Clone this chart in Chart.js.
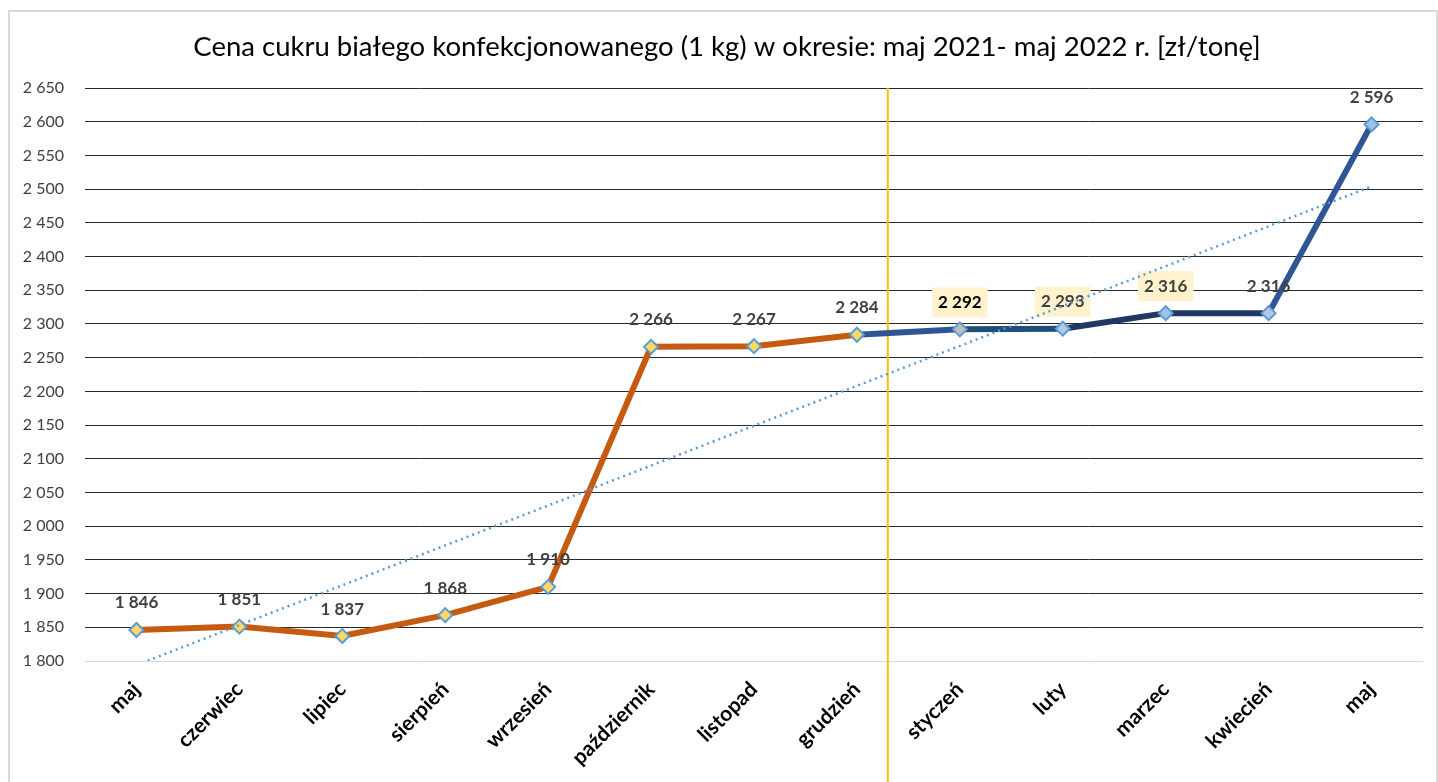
<!DOCTYPE html>
<html>
<head>
<meta charset="utf-8">
<script src="https://cdn.jsdelivr.net/npm/chart.js@4/dist/chart.umd.min.js"></script>
<style>
  body { margin: 0; background: #fff; }
  #wrap { width: 1438px; height: 782px; }
</style>
</head>
<body>
<div id="wrap"><canvas id="chart" width="1438" height="782"></canvas></div>
<script>
// dane: cena cukru [zł/tonę], maj 2021 - maj 2022
const months = ['maj', 'czerwiec', 'lipiec', 'sierpień', 'wrzesień', 'październik', 'listopad', 'grudzień', 'styczeń', 'luty', 'marzec', 'kwiecień', 'maj'];
const prices = [1846, 1851, 1837, 1868, 1910, 2266, 2267, 2284, 2292, 2293, 2316, 2316, 2596];
const trendStartEnd = [1794, 2504];
const yTicksMin = 1800;
const yTicksMax = 2650;
const yStep = 50;

// style
const segColors = ['#c55a11', '#c55a11', '#c55a11', '#c55a11', '#c55a11', '#c55a11', '#c55a11', '#2f5597', '#1f4e79', '#203864', '#203864', '#2f5597'];
const pointFills = ['#ffd966', '#ffd966', '#ffd966', '#ffd966', '#ffd966', '#ffd966', '#ffd966', '#ffd966', '#bfbfbf', '#b4c7e7', '#9dc3e6', '#b4c7e7', '#9dc3e6'];
const boxedLabels = [8, 9, 10];
const FONT = 'Lato, "Open Sans", sans-serif';

const fmt = (v) => String(v).replace(/\B(?=(\d{3})+(?!\d))/g, ' ');

const trendData = months.map((m, i) => i === 0 ? trendStartEnd[0] : (i === months.length - 1 ? trendStartEnd[1] : null));

const frameAndTitle = {
  id: 'frameAndTitle',
  beforeDraw(chart) {
    const ctx = chart.ctx;
    ctx.save();
    ctx.fillStyle = '#fff';
    ctx.fillRect(0, 0, chart.width, chart.height);
    ctx.strokeStyle = '#d9d9d9';
    ctx.lineWidth = 2;
    ctx.strokeRect(9, 11, 1428, 800);
    ctx.fillStyle = '#000';
    ctx.font = '27.5px ' + FONT;
    ctx.textAlign = 'center';
    ctx.textBaseline = 'middle';
    ctx.fillText('Cena cukru białego konfekcjonowanego (1 kg) w okresie: maj 2021- maj 2022 r. [zł/tonę]', 727, 47);
    ctx.restore();
  },
  beforeDatasetsDraw(chart) {
    // pionowa linia: granica roku
    const ctx = chart.ctx;
    const x = chart.scales.x.getPixelForValue(7.3);
    ctx.save();
    ctx.strokeStyle = '#ffc000';
    ctx.lineWidth = 2;
    ctx.beginPath();
    ctx.moveTo(x, chart.chartArea.top);
    ctx.lineTo(x, chart.height);
    ctx.stroke();
    ctx.restore();
  },
  afterDatasetDraw(chart, args) {
    if (args.index !== 0) return;
    const ctx = chart.ctx;
    const meta = chart.getDatasetMeta(0);
    ctx.save();
    ctx.font = 'bold 17px ' + FONT;
    ctx.textAlign = 'center';
    ctx.textBaseline = 'middle';
    meta.data.forEach((pt, i) => {
      const txt = fmt(prices[i]);
      const y = pt.y - 27;
      if (boxedLabels.includes(i)) {
        const w = ctx.measureText(txt).width + 12;
        ctx.fillStyle = '#fff2cc';
        ctx.fillRect(pt.x - w / 2, y - 15, w, 30);
      }
      ctx.fillStyle = i === 8 ? '#000' : '#404040';
      ctx.fillText(txt, pt.x, y);
    });
    ctx.restore();
  }
};

new Chart(document.getElementById('chart'), {
  type: 'line',
  data: {
    labels: months,
    datasets: [{
      label: 'Cena',
      data: prices,
      order: 2,
      borderWidth: 6,
      borderColor: '#c55a11',
      segment: {
        borderColor: (c) => segColors[c.p0DataIndex]
      },
      pointStyle: 'rectRot',
      pointRadius: 7,
      pointBorderWidth: 2,
      pointBorderColor: '#5b9bd5',
      pointBackgroundColor: pointFills,
      tension: 0
    }, {
      label: 'Trend',
      data: trendData,
      order: 1,
      spanGaps: true,
      borderColor: '#5b9bd5',
      borderWidth: 2.5,
      borderDash: [2, 4],
      pointRadius: 0
    }]
  },
  options: {
    responsive: false,
    animation: false,
    layout: { padding: { top: 88, right: 15, left: 0, bottom: 0 } },
    plugins: {
      legend: { display: false },
      tooltip: { enabled: false },
      title: { display: false }
    },
    scales: {
      x: {
        offset: true,
        grid: { display: false },
        border: { display: false },
        ticks: {
          autoSkip: false,
          minRotation: 45,
          maxRotation: 45,
          padding: 8,
          color: '#000',
          font: { family: FONT, size: 21, weight: 'bold' }
        },
        afterFit(scale) {
          scale.height = 121;
          scale.paddingLeft = 0;
          scale.paddingRight = 0;
        }
      },
      y: {
        min: yTicksMin,
        max: yTicksMax,
        border: { display: false },
        grid: {
          drawTicks: false,
          color: (c) => c.tick.value === yTicksMin ? '#d9d9d9' : '#2a2a2a',
          lineWidth: 1
        },
        ticks: {
          stepSize: yStep,
          padding: 21,
          color: '#404040',
          font: { family: FONT, size: 16 },
          callback: (v) => fmt(v)
        },
        afterFit(scale) {
          scale.width = 85;
        }
      }
    }
  },
  plugins: [frameAndTitle]
});
</script>
</body>
</html>
